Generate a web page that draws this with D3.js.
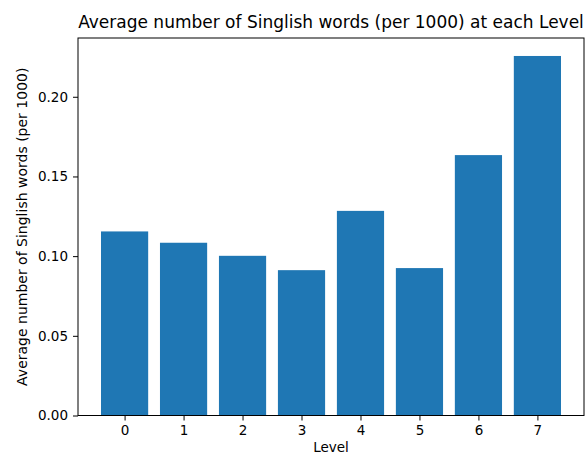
<!DOCTYPE html>
<html>
<head>
<meta charset="utf-8">
<script src="https://cdn.jsdelivr.net/npm/d3@7"></script>
<style>
  body { margin: 0; background: #fff; }
  text { font-family: "DejaVu Sans", sans-serif; fill: #000; }
</style>
</head>
<body>
<script>
// values
var levels = [0, 1, 2, 3, 4, 5, 6, 7];
var avgWords = [0.1155, 0.1084, 0.1002, 0.0912, 0.1284, 0.0925, 0.1634, 0.2256];
var yTicks = [0.00, 0.05, 0.10, 0.15, 0.20];

var width = 585;
var height = 456;
var margins = { top: 38, bottom: 40.5, left: 78, right: 1 };

var plotWidth = width - margins.left - margins.right;
var plotHeight = height - margins.top - margins.bottom;

var svg = d3.select("body").append("svg")
  .attr("width", width)
  .attr("height", height);

var g = svg.append("g")
  .attr("transform", "translate(" + margins.left + "," + margins.top + ")");

// matplotlib style: bars of width 0.8 with 5% margins
var barW = 0.8;
var lo = levels[0] - barW / 2, hi = levels[levels.length - 1] + barW / 2;
var pad = (hi - lo) * 0.05;
var xScale = d3.scaleLinear()
  .domain([lo - pad, hi + pad])
  .range([0, plotWidth]);

var yScale = d3.scaleLinear()
  .domain([0, d3.max(avgWords) * 1.05])
  .range([plotHeight, 0]);

g.selectAll("rect.bar")
  .data(avgWords)
  .enter().append("rect")
  .attr("class", "bar")
  .attr("x", function(d, i) { return xScale(levels[i] - barW / 2); })
  .attr("width", function(d, i) { return xScale(levels[i] + barW / 2) - xScale(levels[i] - barW / 2); })
  .attr("y", function(d) { return yScale(d); })
  .attr("height", function(d) { return yScale(0) - yScale(d); })
  .attr("fill", "#1f77b4");

var xAxis = g.append("g")
  .attr("transform", "translate(0," + plotHeight + ")")
  .call(d3.axisBottom(xScale).tickValues(levels).tickFormat(d3.format("d")).tickSizeOuter(0).tickSize(5).tickPadding(5));

var yAxis = g.append("g")
  .call(d3.axisLeft(yScale).tickValues(yTicks).tickFormat(d3.format(".2f")).tickSizeOuter(0).tickSize(5).tickPadding(5));

[xAxis, yAxis].forEach(function(ax) {
  ax.select(".domain").remove();
  ax.selectAll("line").attr("stroke", "#000").attr("stroke-width", 1);
  ax.selectAll("text").style("font-size", "13.5px").style("font-family", "DejaVu Sans");
});

// frame
g.append("rect")
  .attr("x", 0).attr("y", 0)
  .attr("width", plotWidth).attr("height", plotHeight)
  .attr("fill", "none")
  .attr("stroke", "#000")
  .attr("stroke-width", 1);

svg.append("text")
  .attr("x", margins.left + plotWidth / 2)
  .attr("y", 28)
  .attr("text-anchor", "middle")
  .style("font-size", "17px")
  .text("Average number of Singlish words (per 1000) at each Level");

svg.append("text")
  .attr("x", margins.left + plotWidth / 2)
  .attr("y", 452)
  .attr("text-anchor", "middle")
  .style("font-size", "13.5px")
  .text("Level");

svg.append("text")
  .attr("transform", "translate(26.5," + (margins.top + plotHeight / 2) + ") rotate(-90)")
  .attr("text-anchor", "middle")
  .style("font-size", "14px")
  .text("Average number of Singlish words (per 1000)");
</script>
</body>
</html>
